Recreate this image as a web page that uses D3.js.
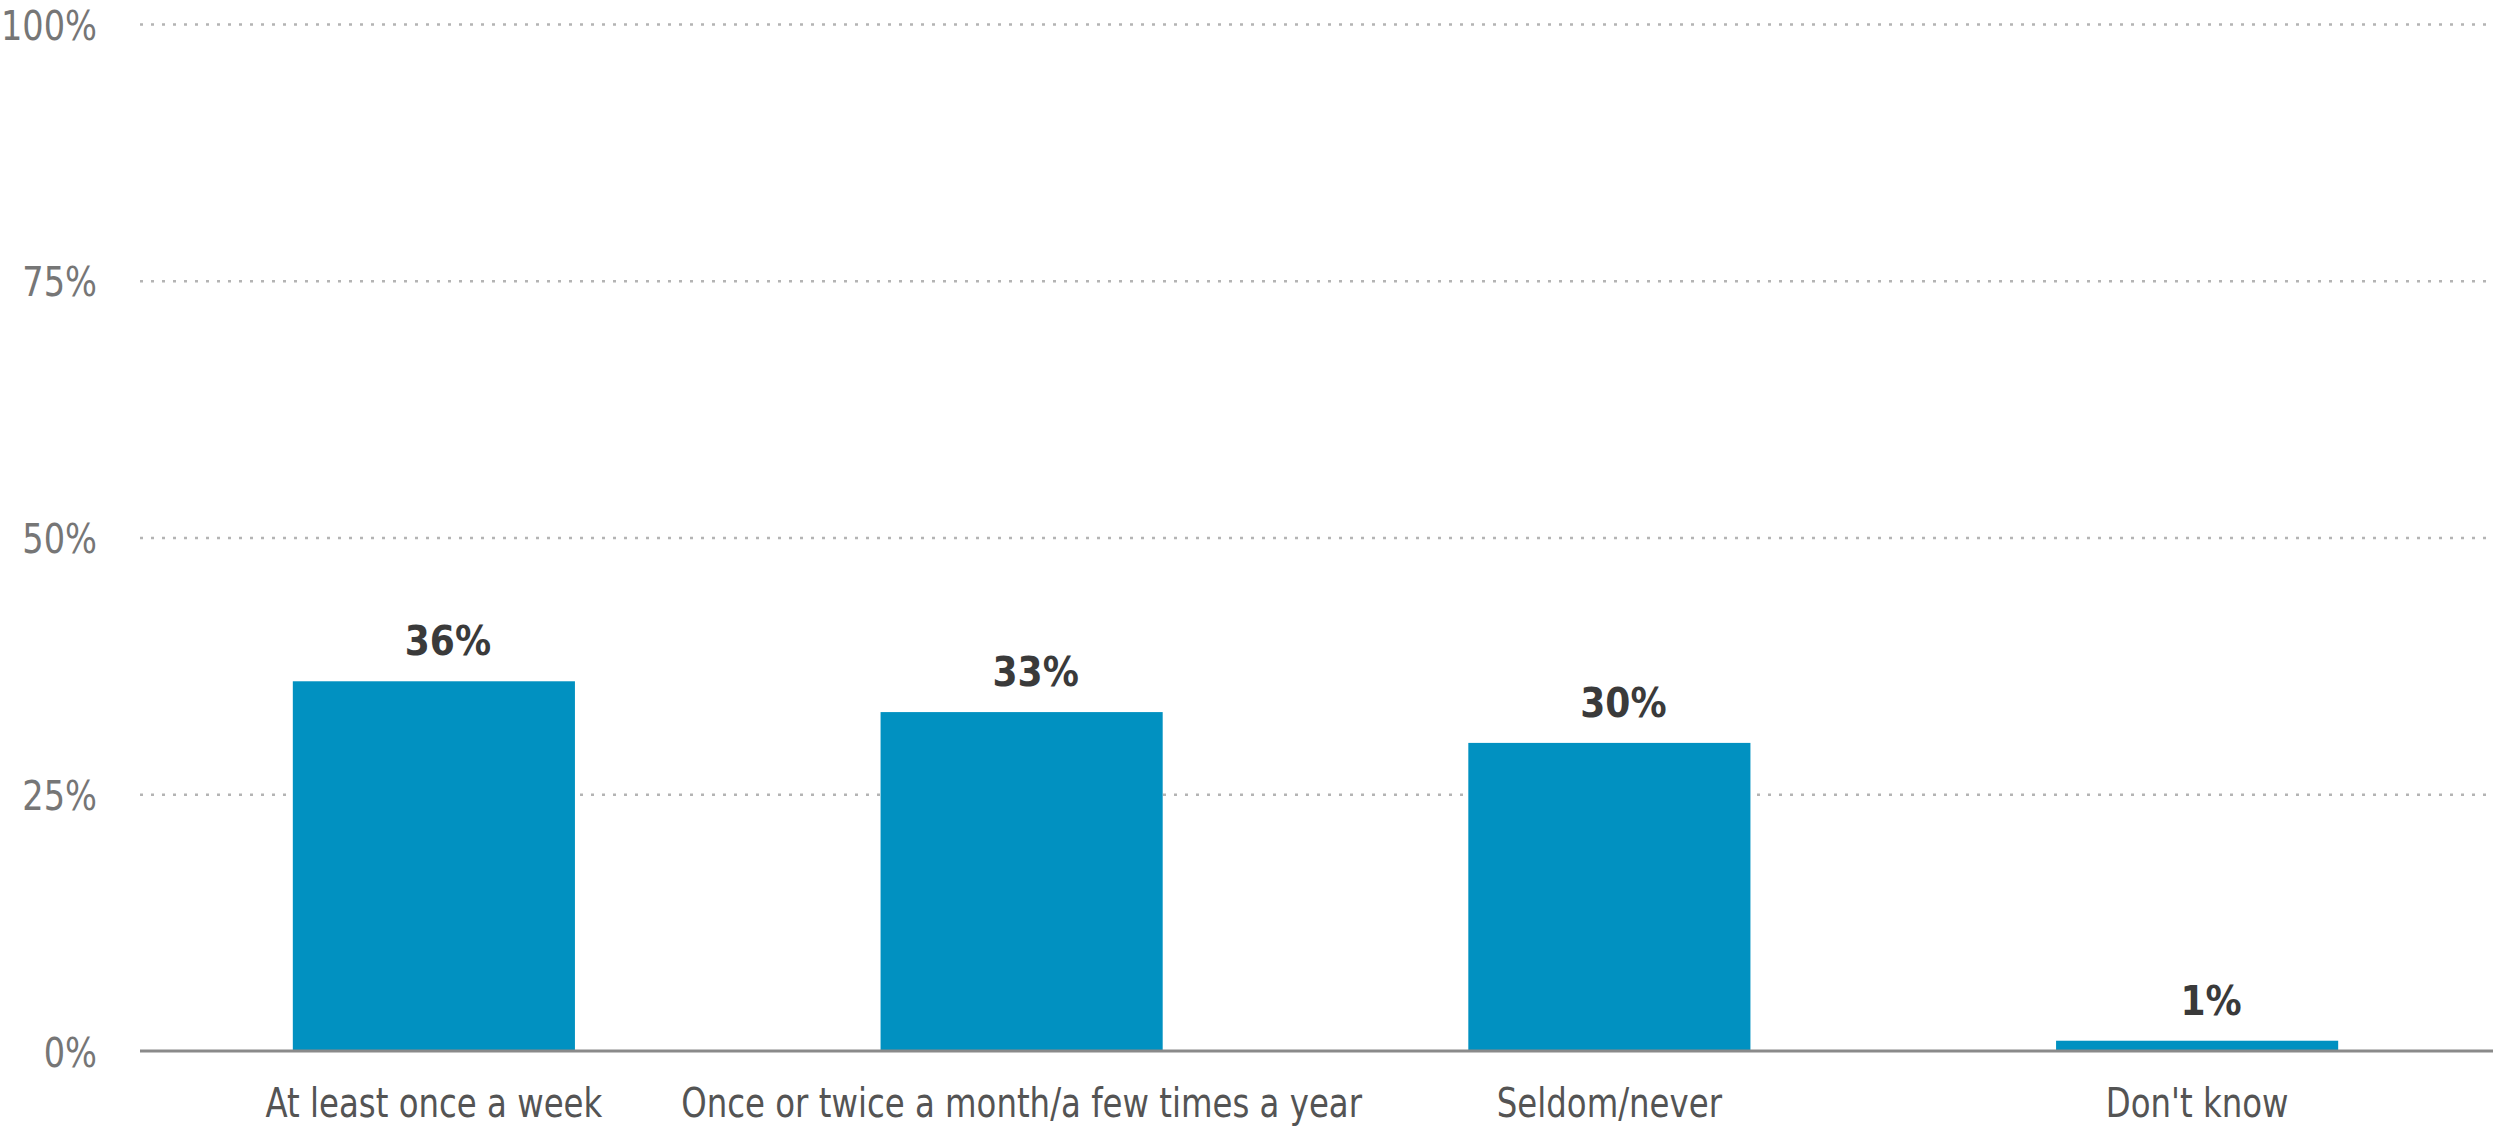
<!DOCTYPE html>
<html>
<head>
<meta charset="utf-8">
<script src="https://cdn.jsdelivr.net/npm/d3@7"></script>
<style>
  html, body { margin: 0; padding: 0; background: #ffffff; }
  svg { display: block; }
  text { font-family: "DejaVu Sans", Verdana, sans-serif; }
</style>
</head>
<body>
<svg id="chart" width="2496" height="1131"></svg>
<script>
// Survey responses: share of respondents per frequency category
const categories = [
  "At least once a week",
  "Once or twice a month/a few times a year",
  "Seldom/never",
  "Don't know"
];
const shares = [36, 33, 30, 1];
const tickValues = [0, 25, 50, 75, 100];
const tickLabels = ["0%", "25%", "50%", "75%", "100%"];

const W = 2496, H = 1131;
const plot = { left: 140, right: 2491, top: 24, bottom: 1051 };

const svg = d3.select("#chart");
svg.append("rect").attr("width", W).attr("height", H).attr("fill", "#ffffff");

const x = d3.scaleBand()
  .domain(categories)
  .range([plot.left, plot.right])
  .paddingInner(0.52)
  .paddingOuter(0.26);

const y = d3.scaleLinear()
  .domain([0, 100])
  .range([plot.bottom, plot.top]);

// Dotted horizontal gridlines with percentage labels
const yAxis = d3.axisLeft(y)
  .tickValues(tickValues)
  .tickSize(-(plot.right - plot.left))
  .tickFormat((d, i) => tickLabels[i]);

const gy = svg.append("g")
  .attr("transform", `translate(${plot.left},0)`)
  .call(yAxis);
gy.select(".domain").remove();
gy.selectAll(".tick line")
  .attr("stroke", "#b4b4b4")
  .attr("stroke-width", 2.5)
  .attr("stroke-dasharray", "3,8")
  .attr("stroke-linecap", "butt")
  .attr("display", d => d === 0 ? "none" : null);
gy.selectAll(".tick text")
  .attr("x", null)
  .attr("dy", null)
  .attr("transform", "translate(-43,15) scale(0.82,1)")
  .attr("text-anchor", "end")
  .attr("fill", "#767676")
  .attr("font-size", 41)
  .style("font-family", "'DejaVu Sans', Verdana, sans-serif");

// Bars
svg.append("g")
  .selectAll("rect")
  .data(shares)
  .join("rect")
  .attr("x", (d, i) => x(categories[i]))
  .attr("y", d => y(d))
  .attr("width", x.bandwidth())
  .attr("height", d => y(0) - y(d))
  .attr("fill", "#0191c1");

// Baseline
svg.append("line")
  .attr("x1", plot.left)
  .attr("x2", plot.right + 2)
  .attr("y1", y(0))
  .attr("y2", y(0))
  .attr("stroke", "#8a8a8a")
  .attr("stroke-width", 3);

// Value labels above bars
svg.append("g")
  .selectAll("text")
  .data(shares)
  .join("text")
  .attr("transform", (d, i) =>
    `translate(${x(categories[i]) + x.bandwidth() / 2 + 14},${y(d) - 26}) scale(0.88,1)`)
  .attr("text-anchor", "middle")
  .attr("font-size", 41)
  .attr("font-weight", "bold")
  .attr("fill", "#3a3a3a")
  .text(d => d + "%");

// Category labels under the baseline
svg.append("g")
  .selectAll("text")
  .data(categories)
  .join("text")
  .attr("transform", d => `translate(${x(d) + x.bandwidth() / 2},1117) scale(0.79,1)`)
  .attr("text-anchor", "middle")
  .attr("font-size", 41)
  .attr("fill", "#545454")
  .text(d => d);
</script>
</body>
</html>
